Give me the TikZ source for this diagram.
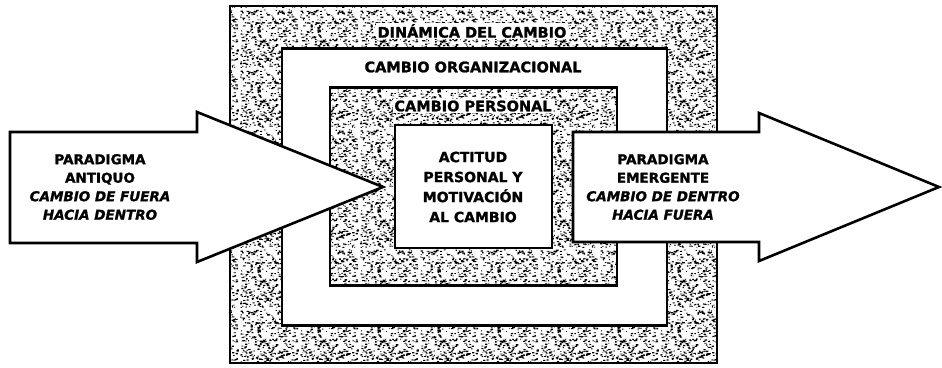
\documentclass[tikz,border=0pt]{standalone}
\usepackage{fontspec}
\setmainfont{DejaVu Sans}[BoldFeatures={FakeBold=1.3}, BoldItalicFeatures={FakeBold=1.3}]
\usetikzlibrary{patterns}
\pgfdeclarepatternformonly{speck}{\pgfpointorigin}{\pgfpoint{60pt}{60pt}}{\pgfpoint{60pt}{60pt}}{%
  \pgfmathsetseed{11}%
  \foreach \i in {1,...,420}{%
    \pgfmathsetmacro\xx{rnd*58}%
    \pgfmathsetmacro\yy{rnd*58.5}%
    \pgfmathsetmacro\ww{0.7+rnd*1.9}%
    \pgfmathsetmacro\hh{0.7+rnd*0.8}%
    \pgfpathrectangle{\pgfpoint{\xx pt}{\yy pt}}{\pgfpoint{\ww pt}{\hh pt}}%
  }%
  \pgfusepath{fill}%
}
\tikzset{
  stipple/.style={draw=black, line width=2.6pt, pattern=speck, pattern color=black, inner sep=0pt},
  plain/.style={draw=black, line width=2.6pt, fill=white, inner sep=0pt},
  arrowshape/.style={draw=black, line width=2.6pt, fill=white, line join=miter},
  title/.style={font=\bfseries\fontsize{14.5}{17}\selectfont, fill=white, inner sep=1.2pt},
  titleplain/.style={font=\bfseries\fontsize{14.5}{17}\selectfont, inner sep=1pt},
  inner/.style={font=\bfseries\fontsize{14}{20}\selectfont, align=center},
  arrtext/.style={font=\bfseries\fontsize{13.5}{18.5}\selectfont, align=center},
}
\begin{document}
\begin{tikzpicture}[x=1pt,y=-1pt]
\useasboundingbox (0,0) rectangle (942,367);
% boxes
\node[stipple, minimum width=487pt, minimum height=357pt] (outer) at (473.5,184.5) {};
\node[plain, minimum width=385pt, minimum height=277pt] (org) at (474.5,187) {};
\node[stipple, minimum width=287pt, minimum height=198pt] (pers) at (473.5,186.5) {};
\node[plain, minimum width=157pt, minimum height=123pt] (core) at (473.5,186.5) {};
% arrows
\draw[arrowshape] (10,132) -- (197,132) -- (197,112) -- (383,187) -- (197,262) -- (197,243) -- (10,243) -- cycle;
\draw[arrowshape] (573,132) -- (759,132) -- (759,113) -- (939,187) -- (759,261) -- (759,242) -- (573,242) -- cycle;
% titles
\node[title] (t1) at (472,31) {DINÁMICA DEL CAMBIO};
\node[titleplain] (t2) at (473,67) {CAMBIO ORGANIZACIONAL};
\node[title] (t3) at (473,106) {CAMBIO PERSONAL};
\node[inner] (t4) at (473,187) {ACTITUD\\PERSONAL Y\\MOTIVACIÓN\\AL CAMBIO};
\node[arrtext] (la) at (100,187) {PARADIGMA\\ANTIQUO\\\itshape CAMBIO DE FUERA\\\itshape HACIA DENTRO};
\node[arrtext] (ra) at (663,187) {PARADIGMA\\EMERGENTE\\\itshape CAMBIO DE DENTRO\\\itshape HACIA FUERA};
\end{tikzpicture}
\end{document}
